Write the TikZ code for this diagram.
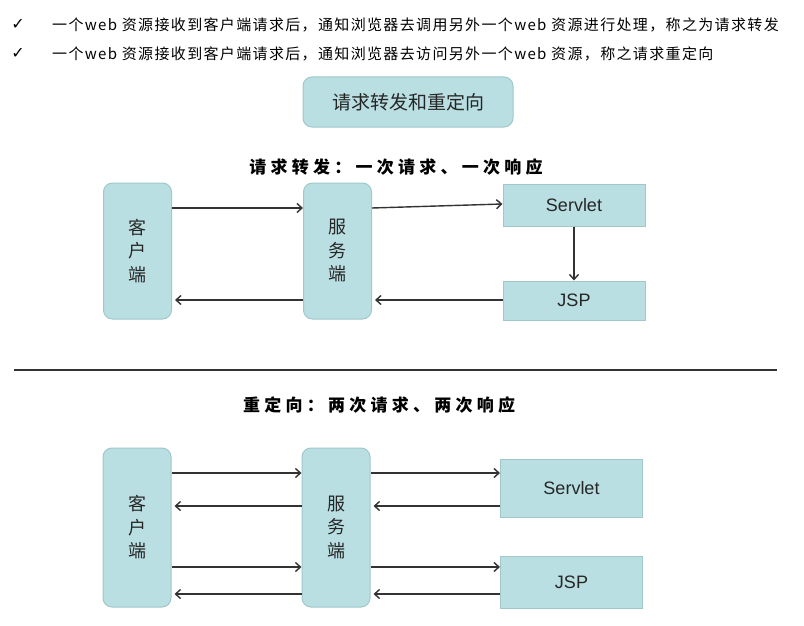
\documentclass[tikz,border=0pt]{standalone}
\usepackage{fontspec}
\setsansfont{Liberation Sans}
\newfontfamily\cjk{Noto Sans CJK SC}
\newfontfamily\cjkwide[LetterSpace=9]{Noto Sans CJK SC}
\newfontfamily\cjkcap[LetterSpace=25]{Noto Sans CJK SC}
\newfontfamily\tickfont{DejaVu Sans}
\usetikzlibrary{arrows.meta}
\definecolor{boxfill}{HTML}{B9DFE2}
\definecolor{boxline}{HTML}{A0C7CA}
\definecolor{linegray}{HTML}{333333}
\tikzset{
	endbox/.style={draw=boxline,fill=boxfill,rounded corners=9pt,line width=1pt,inner sep=0pt,minimum width=68pt,align=center,text=black!85,font=\cjk\fontsize{18}{23.5}\selectfont},
	resbox/.style={draw=boxline,fill=boxfill,line width=1pt,inner sep=0pt,minimum width=142pt,text=black!85,font=\sffamily\fontsize{18}{20}\selectfont},
	msg/.style={draw=linegray,line width=1.4pt,-{Straight Barb[length=5pt,width=9pt]}},
}
\begin{document}
\begin{tikzpicture}[x=1pt,y=-1pt]
				\useasboundingbox (0,0) rectangle (804,626);
				\node[font=\tickfont\fontsize{16}{18}\selectfont] (tick1) at (18,24) {✓};
				\node[font=\tickfont\fontsize{16}{18}\selectfont] (tick2) at (18,53) {✓};
				\node[anchor=west,inner sep=0pt,font=\cjkwide\fontsize{15}{18}\selectfont] (line1) at (52,25) {一个web 资源接收到客户端请求后，通知浏览器去调用另外一个web 资源进行处理，称之为请求转发};
				\node[anchor=west,inner sep=0pt,font=\cjkwide\fontsize{15}{18}\selectfont] (line2) at (52,54) {一个web 资源接收到客户端请求后，通知浏览器去访问另外一个web 资源，称之请求重定向};

				\node[endbox,minimum width=210pt,minimum height=50pt,font=\cjk\fontsize{19}{22}\selectfont] (title) at (408,102) {请求转发和重定向};

				\node[font=\cjkcap\bfseries\fontsize{17}{20}\selectfont] (fwdcap) at (396,167) {请求转发：一次请求、一次响应};
				\node[endbox,minimum height=136pt] (client1) at (137.5,251) {客\\户\\端};
				\node[endbox,minimum height=136pt] (server1) at (337.5,251) {服\\务\\端};
				\node[resbox,minimum height=42pt] (servlet1) at (574,205) {Servlet};
				\node[resbox,minimum height=39pt] (jsp1) at (574,300.5) {JSP};

				\draw[msg] (client1.east |- 0,208) -- (server1.west |- 0,208);
				\draw[msg] (server1.east |- 0,208) -- (servlet1.west |- 0,204);
				\draw[msg] (servlet1.south) -- (jsp1.north);
				\draw[msg,shorten >=3pt] (jsp1.west |- 0,300) -- (server1.east |- 0,300);
				\draw[msg,shorten >=3pt] (server1.west |- 0,300) -- (client1.east |- 0,300);

				\draw[linegray,line width=1.3pt] (14,370) -- (777,370);

				\node[font=\cjkcap\bfseries\fontsize{17}{20}\selectfont] (redcap) at (379,405) {重定向：两次请求、两次响应};
				\node[endbox,minimum height=159pt] (client2) at (137,527.5) {客\\户\\端};
				\node[endbox,minimum height=159pt] (server2) at (336,527.5) {服\\务\\端};
				\node[resbox,minimum height=58pt] (servlet2) at (571.5,488) {Servlet};
				\node[resbox,minimum height=52pt] (jsp2) at (571.5,582) {JSP};

				\draw[msg] (client2.east |- 0,473) -- (server2.west |- 0,473);
				\draw[msg,shorten >=3pt] (server2.west |- 0,506) -- (client2.east |- 0,506);
				\draw[msg] (client2.east |- 0,567) -- (server2.west |- 0,567);
				\draw[msg,shorten >=3pt] (server2.west |- 0,594) -- (client2.east |- 0,594);
				\draw[msg] (server2.east |- 0,473) -- (servlet2.west |- 0,473);
				\draw[msg,shorten >=3pt] (servlet2.west |- 0,506) -- (server2.east |- 0,506);
				\draw[msg] (server2.east |- 0,567) -- (jsp2.west |- 0,567);
				\draw[msg,shorten >=3pt] (jsp2.west |- 0,594) -- (server2.east |- 0,594);
			\end{tikzpicture}
\end{document}
